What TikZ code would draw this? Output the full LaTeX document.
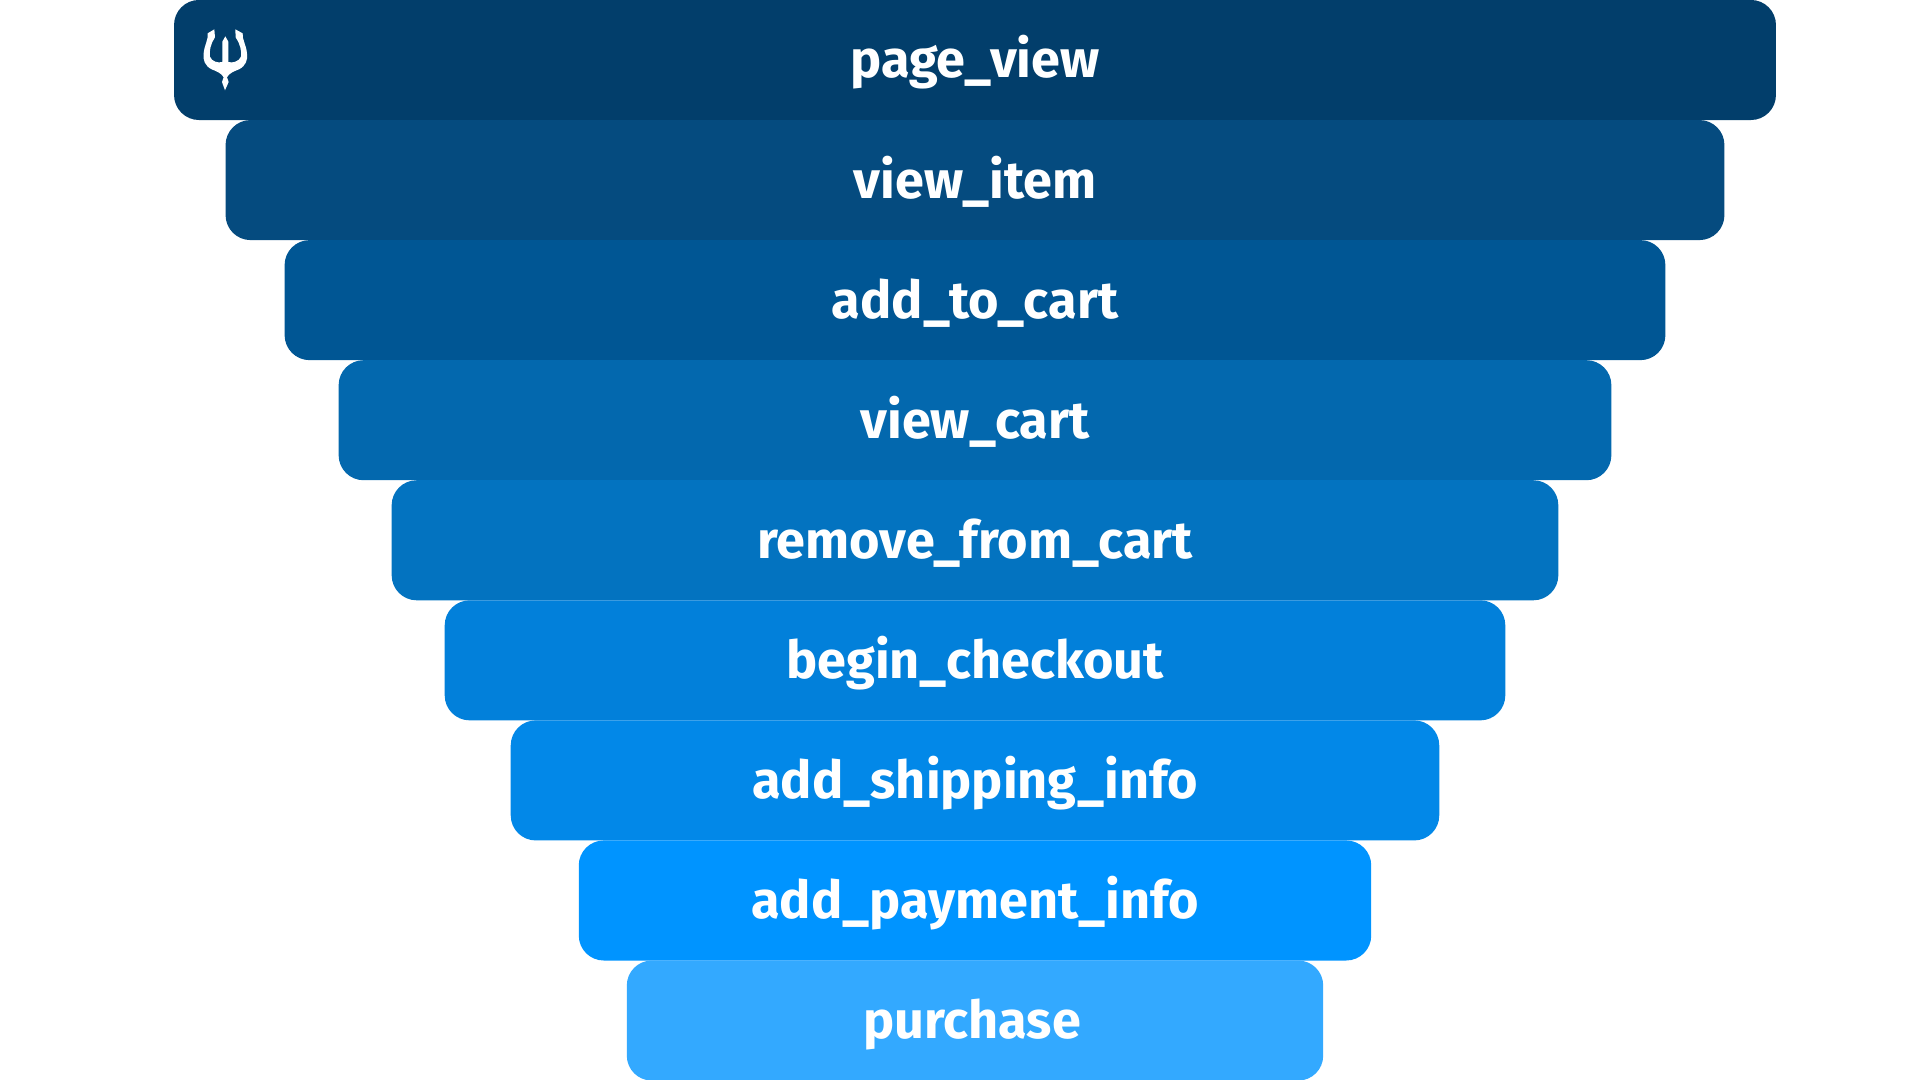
\documentclass[tikz,border=0pt]{standalone}
\usepackage{fontspec}
\setmainfont{Fira Sans}
\usepackage{xcolor}
\definecolor{c1}{HTML}{023E6B}
\definecolor{c2}{HTML}{054B7F}
\definecolor{c3}{HTML}{005694}
\definecolor{c4}{HTML}{0368AE}
\definecolor{c5}{HTML}{0373C0}
\definecolor{c6}{HTML}{0280DA}
\definecolor{c7}{HTML}{0288E8}
\definecolor{c8}{HTML}{0094FF}
\definecolor{c9}{HTML}{33A9FF}

\begin{document}
\begin{tikzpicture}[x=0.01cm,y=-0.01cm,node distance = 1.2cm]
	\tikzstyle{stage} = [rectangle,rounded corners=0.25cm,inner sep=0pt,minimum height=1.2cm,text height=0.6cm,text depth=0.24cm,text=white,font=\fontsize{14.85}{17}\selectfont\bfseries]
	\useasboundingbox (0,0) rectangle (1920,1080);
	\node(pageview)[stage, fill=c1, minimum width=16.01cm] at (975,60) {page\_view};
	\node(viewitem)[stage, fill=c2, minimum width=14.98cm, below of = pageview] {view\_item};
	\node(addtocart)[stage, fill=c3, minimum width=13.80cm, below of = viewitem] {add\_to\_cart};
	\node(viewcart)[stage, fill=c4, minimum width=12.72cm, below of = addtocart] {view\_cart};
	\node(remove)[stage, fill=c5, minimum width=11.66cm, below of = viewcart] {remove\_from\_cart};
	\node(checkout)[stage, fill=c6, minimum width=10.60cm, below of = remove] {begin\_checkout};
	\node(shipping)[stage, fill=c7, minimum width=9.28cm, below of = checkout] {add\_shipping\_info};
	\node(payment)[stage, fill=c8, minimum width=7.92cm, below of = shipping] {add\_payment\_info};
	\node(purchase)[stage, fill=c9, minimum width=6.96cm, below of = payment] {purchase\rule{0.06cm}{0pt}};
	% trident
	\fill[white,shift={(160,0)},scale=0.3333]
		(195,271) -- (186,246) -- (191,232) .. controls (185,220) and (170,214) .. (155,208)
		.. controls (135,198) and (128,180) .. (131,160) .. controls (133,135) and (146,118) .. (143,100)
		-- (163,88) -- (165,112) .. controls (152,130) and (147,155) .. (150,170)
		.. controls (155,185) and (175,190) .. (187,186) -- (187,125) -- (196,109) -- (205,125) -- (205,186)
		.. controls (217,190) and (237,185) .. (243,170) .. controls (246,155) and (240,130) .. (227,112)
		-- (226,88) -- (248,100) .. controls (246,118) and (259,135) .. (261,160)
		.. controls (264,180) and (257,198) .. (237,208) .. controls (222,214) and (207,220) .. (201,232)
		-- (206,246) -- cycle;
\end{tikzpicture}
\end{document}
